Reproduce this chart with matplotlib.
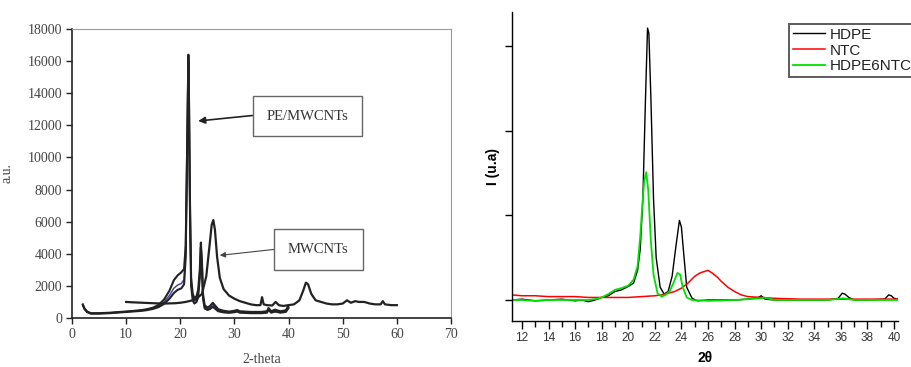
import matplotlib
matplotlib.use("Agg")
import matplotlib.pyplot as plt

# ---------------- Left panel data (PE/MWCNTs vs MWCNTs) ----------------
left_xticks = [0, 10, 20, 30, 40, 50, 60, 70]
left_yticks = [0, 2000, 4000, 6000, 8000, 10000, 12000, 14000, 16000, 18000]

pe_x = [2.0, 2.3, 2.8, 3.5, 5, 7, 9, 11, 13, 14, 15, 16, 17, 18, 18.8, 19.5,
        20.2, 20.7, 21.0, 21.2, 21.4, 21.5, 21.6, 21.8, 22.0, 22.3, 22.6, 23.0,
        23.3, 23.6, 23.8, 24.0, 24.2, 24.5, 25.0, 25.5, 26.0, 26.5, 27, 28, 29,
        30, 30.5, 31, 33, 35, 36, 36.3, 36.8, 37.5, 38.5, 39.5, 40]
pe_upper = [850, 600, 400, 300, 300, 330, 380, 430, 500, 560, 650, 820, 1150,
            1700, 2350, 2650, 2850, 3050, 4500, 9000, 14000, 16400, 14000, 7000,
            2500, 1500, 1250, 1350, 1750, 3000, 4700, 3500, 1500, 800, 650, 750,
            950, 750, 550, 450, 400, 450, 500, 420, 380, 380, 420, 620, 420, 520,
            420, 480, 800]
pe_blue = [820, 580, 380, 290, 290, 320, 370, 420, 480, 530, 610, 740, 990,
           1400, 1850, 2050, 2150, 2400, 4000, 8500, 12500, 13500, 12000, 6000,
           2200, 1250, 1050, 1150, 1500, 2700, 3600, 2800, 1300, 700, 580, 650,
           850, 650, 480, 400, 360, 400, 450, 380, 340, 340, 380, 560, 380, 460,
           380, 430, 700]
pe_lower = [800, 560, 360, 270, 270, 300, 350, 400, 450, 500, 570, 680, 880,
            1200, 1550, 1750, 1850, 2100, 3800, 8800, 13800, 16000, 13500, 6500,
            2000, 1100, 900, 1000, 1300, 2500, 4400, 3200, 1200, 600, 500, 560,
            700, 560, 420, 350, 320, 360, 400, 330, 300, 300, 330, 500, 330, 400,
            330, 380, 620]

mw_x = [10, 11, 13, 15, 17, 19, 20, 21, 22, 23, 24, 24.8, 25.4, 25.8, 26.1,
        26.4, 26.8, 27.3, 28, 29, 30, 31, 32, 33, 34, 34.8, 35.1, 35.4, 36, 37,
        37.6, 38.2, 39, 40, 41, 42, 42.7, 43.2, 43.6, 44.2, 45, 46, 47, 48, 49,
        50, 50.8, 51.5, 52.3, 53, 54, 55, 56, 57, 57.4, 57.8, 59, 60]
mw_y = [1000, 980, 950, 920, 900, 920, 950, 1000, 1080, 1200, 1500, 2600, 4500,
        5800, 6100, 5500, 3800, 2500, 1800, 1400, 1200, 1050, 950, 850, 800,
        800, 1300, 850, 800, 780, 1000, 800, 750, 800, 850, 1100, 1700, 2200,
        2100, 1500, 1100, 1000, 900, 850, 850, 900, 1100, 950, 1050, 1000, 1000,
        900, 850, 850, 1050, 850, 800, 800]

# ---------------- Right panel data (HDPE / NTC / HDPE6NTC) ----------------
right_xticks = [12, 14, 16, 18, 20, 22, 24, 26, 28, 30, 32, 34, 36, 38, 40]
right_minor = [13, 15, 17, 19, 21, 23, 25, 27, 29, 31, 33, 35, 37, 39]
right_yticks = [0, 1, 2, 3]

hdpe_x = [11.25, 12, 13, 14, 15, 16, 16.5, 17, 17.5, 18, 18.5, 19, 19.5, 20,
          20.4, 20.7, 20.9, 21.1, 21.3, 21.45, 21.55, 21.7, 21.9, 22.1, 22.4,
          22.7, 23.0, 23.3, 23.6, 23.85, 24.0, 24.2, 24.4, 24.8, 25.2, 26, 27,
          28, 29, 29.8, 30.0, 30.3, 31, 33, 35, 35.8, 36.1, 36.3, 36.6, 37, 38,
          39.3, 39.6, 39.8, 40.0, 40.3]
hdpe_y = [0.00, 0.01, -0.01, 0.00, 0.01, -0.01, 0.00, -0.02, 0.00, 0.03, 0.05,
          0.10, 0.12, 0.16, 0.20, 0.35, 0.60, 1.20, 2.40, 3.21, 3.15, 2.40,
          1.20, 0.50, 0.15, 0.07, 0.10, 0.28, 0.65, 0.94, 0.86, 0.50, 0.15,
          0.02, -0.01, 0.00, 0.00, 0.00, 0.01, 0.03, 0.05, 0.01, 0.00, 0.00,
          0.00, 0.02, 0.08, 0.07, 0.03, 0.00, 0.00, 0.01, 0.06, 0.05, 0.02, 0.01]

ntc_x = [11.25, 12, 13, 14, 15, 16, 17, 18, 19, 20, 21, 22, 22.5, 23, 23.5, 24,
         24.5, 25, 25.4, 25.8, 26.0, 26.3, 26.7, 27, 27.5, 28, 28.5, 29, 30,
         31, 33, 35, 37, 39, 40.3]
ntc_y = [0.06, 0.05, 0.05, 0.04, 0.04, 0.04, 0.03, 0.03, 0.03, 0.03, 0.04,
         0.05, 0.06, 0.08, 0.10, 0.14, 0.20, 0.28, 0.32, 0.34, 0.35, 0.32,
         0.27, 0.22, 0.15, 0.10, 0.06, 0.04, 0.03, 0.02, 0.01, 0.01, 0.01,
         0.01, 0.01]

mix_x = [11.25, 12, 13, 14, 15, 16, 17, 17.5, 18, 18.5, 19, 19.5, 20, 20.4,
         20.7, 20.9, 21.05, 21.2, 21.35, 21.5, 21.7, 21.9, 22.2, 22.5, 22.8,
         23.1, 23.4, 23.7, 23.9, 24.1, 24.4, 24.8, 26, 28, 30, 30.2, 31, 33, 35,
         36.2, 37, 39, 40.3]
mix_y = [0.00, 0.00, -0.01, 0.00, 0.00, 0.00, 0.00, 0.01, 0.03, 0.07, 0.12,
         0.14, 0.17, 0.24, 0.40, 0.75, 1.10, 1.40, 1.51, 1.30, 0.70, 0.30,
         0.08, 0.04, 0.06, 0.10, 0.20, 0.32, 0.30, 0.15, 0.03, 0.00, -0.01,
         0.00, 0.02, 0.03, 0.00, 0.00, 0.00, 0.02, 0.00, 0.00, 0.00]

W, H = 912, 367
fig = plt.figure(figsize=(W / 100, H / 100), dpi=100)

# ---------------- Left panel ----------------
serif = ["Liberation Serif", "DejaVu Serif"]
axL = fig.add_axes([72 / W, (H - 318) / H, (451 - 72) / W, (318 - 29) / H])
axL.plot(pe_x, pe_blue, color="#3a3aa8", lw=1.0, zorder=2)
axL.plot(mw_x, mw_y, color="#222222", lw=1.6, zorder=3)
axL.plot(pe_x, pe_upper, color="#222222", lw=1.5, zorder=3)
axL.plot(pe_x, pe_lower, color="#222222", lw=1.5, zorder=3)
axL.set_xlim(0, 70)
axL.set_ylim(0, 18000)
axL.set_xticks(left_xticks)
axL.set_yticks(left_yticks)
for s in ("top", "right"):
    axL.spines[s].set_color("#999999")
for s in ("left", "bottom"):
    axL.spines[s].set_color("#222222")
    axL.spines[s].set_linewidth(1.2)
axL.tick_params(direction="out", length=4, width=1, color="#222222",
                labelcolor="#444444", labelsize=10, pad=3)
for lab in axL.get_xticklabels() + axL.get_yticklabels():
    lab.set_family(serif)
axL.set_xlabel("2-theta", family=serif, fontsize=10, color="#444444", labelpad=9)
axL.set_ylabel("a.u.", family=serif, fontsize=10, color="#444444", labelpad=10)

axL.annotate("PE/MWCNTs", xy=(23.3, 12270), xytext=(43.5, 12580),
             family=serif, fontsize=10.5, color="#333333", ha="center", va="center",
             bbox=dict(boxstyle="square,pad=0.95", fc="white", ec="#666666", lw=1.0),
             arrowprops=dict(arrowstyle="-|>", color="#222222", lw=1.2,
                             mutation_scale=10, shrinkA=0, shrinkB=0,
                             relpos=(0, 0.65)))
axL.annotate("MWCNTs", xy=(27.3, 3900), xytext=(45.5, 4270),
             family=serif, fontsize=10.5, color="#333333", ha="center", va="center",
             bbox=dict(boxstyle="square,pad=0.95", fc="white", ec="#666666", lw=1.0),
             arrowprops=dict(arrowstyle="-|>", color="#444444", lw=0.8,
                             mutation_scale=8, shrinkA=0, shrinkB=0,
                             relpos=(0, 0.62)))

# ---------------- Right panel ----------------
sans = ["Liberation Sans", "DejaVu Sans"]
axR = fig.add_axes([512 / W, (H - 321) / H, (898 - 512) / W, (321 - 12) / H])
axR.plot(hdpe_x, hdpe_y, color="black", lw=1.0, label="HDPE")
axR.plot(ntc_x, ntc_y, color="#ff0000", lw=1.1, label="NTC")
axR.plot(mix_x, mix_y, color="#00e000", lw=1.3, label="HDPE6NTC")
axR.set_xlim(11.25, 40.3)
axR.set_ylim(-0.248, 3.40)
axR.set_xticks(right_xticks)
axR.set_xticks(right_minor, minor=True)
axR.set_yticks(right_yticks)
axR.set_yticklabels([])
for s in ("top", "right"):
    axR.spines[s].set_visible(False)
for s in ("left", "bottom"):
    axR.spines[s].set_linewidth(1.0)
axR.tick_params(axis="x", which="major", direction="out", length=6, width=1,
                labelsize=8.5, labelcolor="#333333", pad=2)
axR.tick_params(axis="x", which="minor", direction="out", length=4, width=1)
axR.tick_params(axis="y", direction="out", length=5, width=1)
for lab in axR.get_xticklabels():
    lab.set_family(sans)
axR.set_xlabel("2θ", family=sans, fontsize=10, fontweight="bold", labelpad=5)
axR.set_ylabel("I (u.a)", family=sans, fontsize=10, fontweight="bold", labelpad=0)

leg = axR.legend(loc="upper left", bbox_to_anchor=(789 / W, (H - 24) / H),
                 bbox_transform=fig.transFigure, frameon=True, fancybox=False,
                 prop={"family": sans, "size": 11}, handlelength=2.1,
                 handletextpad=0.3, labelspacing=0.12, borderpad=0.25,
                 borderaxespad=0)
leg.get_frame().set_edgecolor("#333333")
leg.get_frame().set_linewidth(1.4)
for t in leg.get_texts():
    t.set_color("#222222")

fig.savefig("out.png", dpi=100)
